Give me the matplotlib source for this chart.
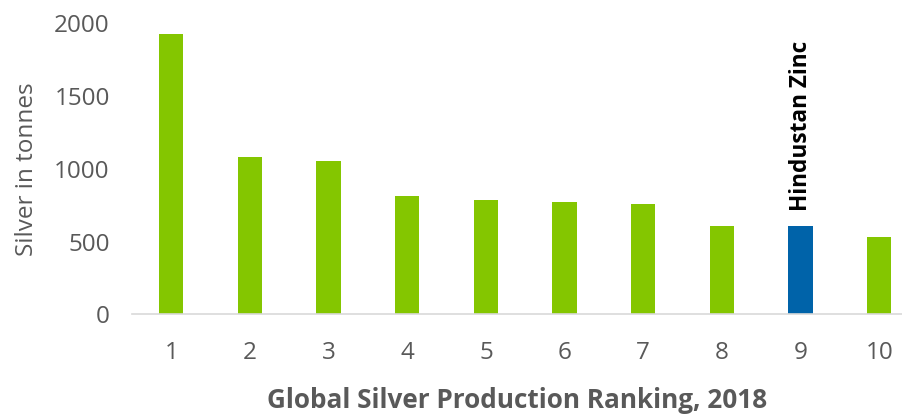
import numpy as np
import matplotlib
matplotlib.use("Agg")
import matplotlib.pyplot as plt

plt.rcParams['font.family'] = ['Open Sans', 'DejaVu Sans']

# Data
ranks = [1, 2, 3, 4, 5, 6, 7, 8, 9, 10]
silver_tonnes = [1925, 1082, 1055, 814, 787, 771, 762, 610, 608, 535]
highlight_rank = 9
highlight_label = "Hindustan Zinc"
yticks = [0, 500, 1000, 1500, 2000]

green = "#84c600"
blue = "#0063a9"
grey = "#595959"

colors = [blue if r == highlight_rank else green for r in ranks]

fig = plt.figure(figsize=(9.02, 4.15), dpi=100)
ax = fig.add_axes([0.1463, 0.2422, 0.8537, 0.7017])

ax.bar(ranks, silver_tonnes, width=0.31, color=colors, zorder=2)

# label above highlighted bar
hv = silver_tonnes[ranks.index(highlight_rank)]
ax.text(highlight_rank, hv + 105, highlight_label, rotation=90,
        ha="center", va="bottom", fontsize=16.3, fontweight="bold",
        color="black")

ax.set_xlim(0.5, 10.29)
ax.set_ylim(0, 2000)
ax.set_xticks(ranks)
ax.set_yticks(yticks)
ax.tick_params(axis="both", length=0, labelsize=17.5, labelcolor=grey)
ax.tick_params(axis="x", pad=19)
ax.tick_params(axis="y", pad=16)

for s in ["top", "right", "left"]:
    ax.spines[s].set_visible(False)
ax.spines["bottom"].set_color("#d9d9d9")
ax.spines["bottom"].set_linewidth(1.2)

ax.set_ylabel("Silver in tonnes", fontsize=17.5, color=grey, labelpad=11)
ax.set_xlabel("Global Silver Production Ranking, 2018", fontsize=18.8,
              fontweight="bold", color=grey, labelpad=16)

plt.savefig("out.png", dpi=100)
plt.close()
